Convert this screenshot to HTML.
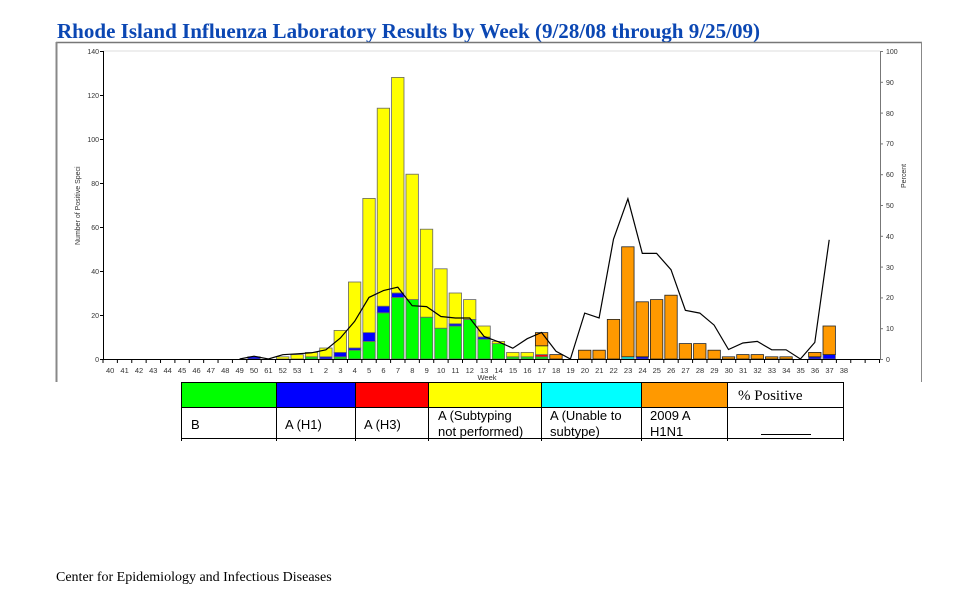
<!DOCTYPE html>
<html><head><meta charset="utf-8"><style>
body{margin:0;background:#fff;width:975px;height:593px;overflow:hidden;position:relative;font-family:"Liberation Sans",sans-serif}
svg{position:absolute;left:0;top:0}
</style></head><body>
<svg id="s" width="975" height="593" viewBox="0 0 975 593" xmlns="http://www.w3.org/2000/svg">
<text x="57" y="38" font-family="Liberation Serif, serif" font-weight="bold" font-size="21" fill="#0b47b3" textLength="703" lengthAdjust="spacingAndGlyphs">Rhode Island Influenza Laboratory Results by Week (9/28/08 through 9/25/09)</text>
<line x1="56" y1="42.5" x2="922" y2="42.5" stroke="#777" stroke-width="1.5"/>
<line x1="56.5" y1="42" x2="56.5" y2="382" stroke="#888" stroke-width="2"/>
<line x1="921.5" y1="42" x2="921.5" y2="382" stroke="#888" stroke-width="1"/>
<line x1="103" y1="51" x2="880" y2="51" stroke="#ddd" stroke-width="1"/>
<g id="bars"></g>
<polyline id="pl" fill="none" stroke="#000" stroke-width="1.2"/>
<line x1="103.5" y1="51" x2="103.5" y2="359" stroke="#000" stroke-width="1"/>
<line x1="103" y1="359.5" x2="880" y2="359.5" stroke="#000" stroke-width="1"/>
<line x1="880.5" y1="51" x2="880.5" y2="359" stroke="#777" stroke-width="1"/>
<g id="ticks" stroke="#000" stroke-width="1"></g>
<g font-size="7" fill="#333" text-anchor="end">
<text x="99" y="362">0</text><text x="99" y="318">20</text><text x="99" y="274">40</text><text x="99" y="230">60</text><text x="99" y="186">80</text><text x="99" y="142">100</text><text x="99" y="98">120</text><text x="99" y="54">140</text>
</g>
<g font-size="7" fill="#333">
<text x="886" y="362">0</text><text x="886" y="331">10</text><text x="886" y="300">20</text><text x="886" y="270">30</text><text x="886" y="239">40</text><text x="886" y="208">50</text><text x="886" y="177">60</text><text x="886" y="146">70</text><text x="886" y="116">80</text><text x="886" y="85">90</text><text x="886" y="54">100</text>
</g>
<text transform="translate(80,245) rotate(-90)" font-size="7" fill="#333">Number of Positive Speci</text>
<text transform="translate(906,188) rotate(-90)" font-size="7" fill="#333">Percent</text>
<g font-size="7.5" fill="#333" text-anchor="middle">
<text x="110.2" y="373">40</text><text x="124.6" y="373">41</text><text x="139" y="373">42</text><text x="153.3" y="373">43</text><text x="167.7" y="373">44</text><text x="182.1" y="373">45</text><text x="196.5" y="373">46</text><text x="210.9" y="373">47</text><text x="225.3" y="373">48</text><text x="239.7" y="373">49</text><text x="254" y="373">50</text><text x="268.4" y="373">61</text><text x="282.8" y="373">52</text><text x="297.2" y="373">53</text><text x="311.6" y="373">1</text><text x="326" y="373">2</text><text x="340.4" y="373">3</text><text x="354.7" y="373">4</text><text x="369.1" y="373">5</text><text x="383.5" y="373">6</text><text x="397.9" y="373">7</text><text x="412.3" y="373">8</text><text x="426.7" y="373">9</text><text x="441.1" y="373">10</text><text x="455.4" y="373">11</text><text x="469.8" y="373">12</text><text x="484.2" y="373">13</text><text x="498.6" y="373">14</text><text x="513" y="373">15</text><text x="527.4" y="373">16</text><text x="541.8" y="373">17</text><text x="556.1" y="373">18</text><text x="570.5" y="373">19</text><text x="584.9" y="373">20</text><text x="599.3" y="373">21</text><text x="613.7" y="373">22</text><text x="628.1" y="373">23</text><text x="642.5" y="373">24</text><text x="656.8" y="373">25</text><text x="671.2" y="373">26</text><text x="685.6" y="373">27</text><text x="700" y="373">28</text><text x="714.4" y="373">29</text><text x="728.8" y="373">30</text><text x="743.2" y="373">31</text><text x="757.5" y="373">32</text><text x="771.9" y="373">33</text><text x="786.3" y="373">34</text><text x="800.7" y="373">35</text><text x="815.1" y="373">36</text><text x="829.5" y="373">37</text><text x="843.9" y="373">38</text>
<text x="487" y="380">Week</text>
</g>
<!-- legend table -->
<g>
<rect x="181" y="382" width="95" height="25" fill="#00ff00"/>
<rect x="276" y="382" width="79" height="25" fill="#0000ff"/>
<rect x="355" y="382" width="73" height="25" fill="#ff0000"/>
<rect x="428" y="382" width="113" height="25" fill="#ffff00"/>
<rect x="541" y="382" width="100" height="25" fill="#00ffff"/>
<rect x="641" y="382" width="86" height="25" fill="#ff9900"/>
<g stroke="#000" stroke-width="1">
<line x1="181" y1="382.5" x2="843" y2="382.5"/>
<line x1="181" y1="407.5" x2="843" y2="407.5"/>
<line x1="181" y1="438.5" x2="843" y2="438.5"/>
<line x1="181.5" y1="382" x2="181.5" y2="441"/>
<line x1="276.5" y1="382" x2="276.5" y2="441"/>
<line x1="355.5" y1="382" x2="355.5" y2="441"/>
<line x1="428.5" y1="382" x2="428.5" y2="441"/>
<line x1="541.5" y1="382" x2="541.5" y2="441"/>
<line x1="641.5" y1="382" x2="641.5" y2="441"/>
<line x1="727.5" y1="382" x2="727.5" y2="441"/>
<line x1="843.5" y1="382" x2="843.5" y2="441"/>
<line x1="761" y1="434.5" x2="811" y2="434.5"/>
</g>
<text x="738" y="400" font-family="Liberation Serif, serif" font-size="15" fill="#000">% Positive</text>
<g font-size="13" fill="#000">
<text x="191" y="429">B</text>
<text x="285" y="429">A (H1)</text>
<text x="364" y="429">A (H3)</text>
<text x="438" y="420">A (Subtyping</text>
<text x="438" y="436">not performed)</text>
<text x="550" y="420">A (Unable to</text>
<text x="550" y="436">subtype)</text>
<text x="650" y="420">2009 A</text>
<text x="650" y="436">H1N1</text>
</g>
</g>
<text x="56" y="581" font-family="Liberation Serif, serif" font-size="14" fill="#000">Center for Epidemiology and Infectious Diseases</text>
</svg>
<script>
var NS="http://www.w3.org/2000/svg";
function cx(i){return 103+14.38*(i+0.5);}
function Y(v){return 359-v*2.2;}
// [index, [color, cumulativeTop]...]
var G="#00ff00",B="#0000ff",R="#ff0000",Yl="#ffff00",C="#00ffff",O="#ff9900";
var d={10:[[B,1]],12:[[Yl,1]],13:[[Yl,2]],14:[[G,1],[Yl,3]],15:[[B,1],[Yl,5]],16:[[G,1],[B,3],[Yl,13]],
17:[[G,4],[B,5],[Yl,35]],18:[[G,8],[B,12],[Yl,73]],19:[[G,21],[B,24],[Yl,114]],20:[[G,28],[B,30],[Yl,128]],
21:[[G,27],[Yl,84]],22:[[G,19],[Yl,59]],23:[[G,14],[Yl,41]],24:[[G,15],[B,16],[Yl,30]],25:[[G,18],[Yl,27]],
26:[[G,9],[B,10],[Yl,15]],27:[[G,7],[Yl,8]],28:[[G,1],[Yl,3]],29:[[G,1],[Yl,3]],30:[[G,1],[R,2],[Yl,6],[O,12]],
31:[[O,2]],33:[[O,4]],34:[[O,4]],35:[[O,18]],36:[[C,1],[O,51]],37:[[B,1],[O,26]],38:[[O,27]],39:[[O,29]],
40:[[O,7]],41:[[O,7]],42:[[O,4]],43:[[O,1]],44:[[O,2]],45:[[O,2]],46:[[O,1]],47:[[O,1]],49:[[B,1],[O,3]],50:[[B,2],[O,15]]};
var g=document.getElementById("bars");
for(var k in d){var i=+k,prev=0;d[k].forEach(function(s){var r=document.createElementNS(NS,"rect");
r.setAttribute("x",cx(i)-6.2);r.setAttribute("width",12.4);r.setAttribute("y",Y(s[1]));r.setAttribute("height",(s[1]-prev)*2.2);
r.setAttribute("fill",s[0]);r.setAttribute("stroke",s[0]==O?"#222":"#666");r.setAttribute("stroke-width","0.8");g.appendChild(r);prev=s[1];});}
var p=[0,0.9,0,1.4,1.7,2,3,6.8,12.2,20,22.2,23.3,17.3,17,13.8,13.3,13.3,7.3,5.6,3.5,6.6,8.6,2.5,0,14.9,13.3,38.9,52,34.3,34.3,29,15.8,14.9,11,3.1,5.2,5.7,3,3,0,5.4,38.7];
var pts=p.map(function(v,j){return cx(j+9).toFixed(1)+","+(359-v*3.08).toFixed(1);});
document.getElementById("pl").setAttribute("points",pts.join(" "));
var t=document.getElementById("ticks");
for(var j=0;j<=54;j++){var x=103+14.38*j,l=document.createElementNS(NS,"line");l.setAttribute("x1",x);l.setAttribute("x2",x);l.setAttribute("y1",359);l.setAttribute("y2",363);t.appendChild(l);}
for(var v=0;v<=140;v+=20){var l=document.createElementNS(NS,"line");l.setAttribute("x1",100);l.setAttribute("x2",103);l.setAttribute("y1",Y(v)+.5);l.setAttribute("y2",Y(v)+.5);t.appendChild(l);}
for(var v=0;v<=100;v+=10){var l=document.createElementNS(NS,"line");l.setAttribute("x1",880);l.setAttribute("x2",883);l.setAttribute("y1",359-v*3.08+.5);l.setAttribute("y2",359-v*3.08+.5);l.setAttribute("stroke","#777");t.appendChild(l);}
</script>
</body></html>
